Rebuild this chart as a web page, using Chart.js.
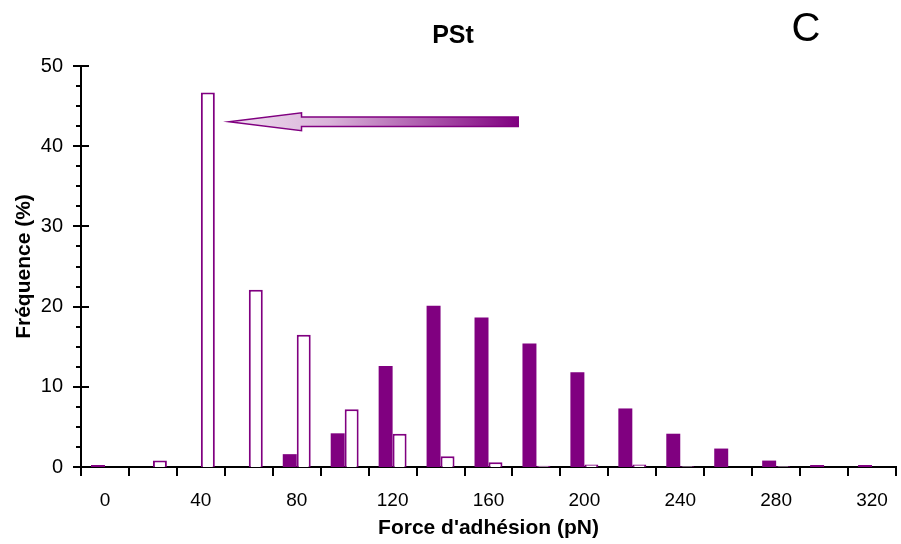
<!DOCTYPE html>
<html>
<head>
<meta charset="utf-8">
<script src="https://cdn.jsdelivr.net/npm/chart.js@4/dist/chart.umd.min.js"></script>
<style>
  body { margin: 0; background: #fff; }
  #wrap { width: 901px; height: 544px; }
</style>
</head>
<body>
<div id="wrap"><canvas id="myChart" width="901" height="544"></canvas></div>
<script>
// force classes (pN), one bar pair per class
const categories = ['0', '20', '40', '60', '80', '100', '120', '140', '160', '180', '200', '220', '240', '260', '280', '300', '320'];
// solid bars
const filledValues = [0.25, 0, 0, 0, 1.6, 4.2, 12.6, 20.1, 18.65, 15.4, 11.8, 7.3, 4.15, 2.3, 0.8, 0.25, 0.25];
// open bars
const openValues = [0, 0.8, 46.7, 22.1, 16.5, 7.2, 4.15, 1.35, 0.6, 0.15, 0.3, 0.3, 0.1, 0, 0.1, 0, 0];
const yTicks = [0, 10, 20, 30, 40, 50];

const purple = '#800080';
const fontFamily = "'Liberation Sans', Arial, sans-serif";

// extra drawing: y minor ticks, arrow, titles
const extras = {
    id: 'extras',
    afterDraw(chart) {
        const ctx = chart.ctx;
        const x = chart.scales.x;
        const y = chart.scales.y;
        const left = chart.chartArea.left;

        ctx.save();
        ctx.strokeStyle = '#000';
        ctx.lineWidth = 2;
        for (let v = 0; v <= 50; v += 2.5) {
            const py = Math.round(y.getPixelForValue(v));
            ctx.beginPath();
            if (v % 10 === 0) {
                ctx.moveTo(left - 8, py);
                ctx.lineTo(left + 8, py);
            } else {
                ctx.moveTo(left - 5, py);
                ctx.lineTo(left, py);
            }
            ctx.stroke();
        }

        // arrow pointing at the 40 pN bar
        const tipX = x.getPixelForValue(2.59);
        const baseX = x.getPixelForValue(4.1);
        const tailX = x.getPixelForValue(8.62);
        const cy = y.getPixelForValue(43.05);
        const head = 9, shaft = 4.7;
        const grad = ctx.createLinearGradient(tipX, 0, tailX, 0);
        grad.addColorStop(0, '#efe0ef');
        grad.addColorStop(0.35, '#d9b3d9');
        grad.addColorStop(1, purple);
        ctx.beginPath();
        ctx.moveTo(tipX, cy);
        ctx.lineTo(baseX, cy - head);
        ctx.lineTo(baseX, cy - shaft);
        ctx.lineTo(tailX, cy - shaft);
        ctx.lineTo(tailX, cy + shaft);
        ctx.lineTo(baseX, cy + shaft);
        ctx.lineTo(baseX, cy + head);
        ctx.closePath();
        ctx.fillStyle = grad;
        ctx.fill();
        ctx.strokeStyle = purple;
        ctx.lineWidth = 1.5;
        ctx.stroke();

        ctx.fillStyle = '#000';
        ctx.textAlign = 'center';
        ctx.textBaseline = 'alphabetic';
        ctx.font = 'bold 25px ' + fontFamily;
        ctx.fillText('PSt', 453, 43);
        ctx.font = '40px ' + fontFamily;
        ctx.fillText('C', 806, 41);
        ctx.restore();
    }
};

const ctx = document.getElementById('myChart').getContext('2d');
const myChart = new Chart(ctx, {
    type: 'bar',
    data: {
        labels: categories,
        datasets: [{
            label: 'filled',
            data: filledValues,
            backgroundColor: purple,
            borderWidth: 0,
            categoryPercentage: 0.583,
            barPercentage: 1.0
        }, {
            label: 'open',
            data: openValues,
            backgroundColor: '#fff',
            borderColor: purple,
            borderWidth: 2,
            categoryPercentage: 0.583,
            barPercentage: 1.0
        }]
    },
    options: {
        responsive: false,
        animation: false,
        layout: { padding: { left: 0, right: 4, top: 66, bottom: 0 } },
        plugins: {
            legend: { display: false },
            tooltip: { enabled: false },
            title: { display: false }
        },
        scales: {
            x: {
                type: 'category',
                offset: true,
                grid: {
                    display: true,
                    offset: true,
                    drawOnChartArea: false,
                    drawTicks: true,
                    tickLength: 9,
                    color: '#000',
                    lineWidth: 2
                },
                border: { display: true, color: '#000', width: 2 },
                ticks: {
                    autoSkip: false,
                    maxRotation: 0,
                    padding: 13,
                    color: '#000',
                    font: { family: fontFamily, size: 19 },
                    callback: (val, i) => (i % 2 === 0 ? categories[i] : '')
                },
                title: {
                    display: true,
                    text: "Force d'adhésion (pN)",
                    color: '#000',
                    font: { family: fontFamily, size: 21, weight: 'bold' },
                    padding: { top: 0, bottom: 3 }
                },
                afterFit: (scale) => { scale.height = 77; }
            },
            y: {
                min: 0,
                max: 50,
                afterBuildTicks: (scale) => { scale.ticks = yTicks.map(v => ({ value: v })); },
                grid: { display: false, drawTicks: false },
                border: { display: true, color: '#000', width: 2 },
                ticks: {
                    padding: 18,
                    color: '#000',
                    font: { family: fontFamily, size: 20 }
                },
                title: {
                    display: true,
                    text: 'Fréquence (%)',
                    color: '#000',
                    font: { family: fontFamily, size: 21, weight: 'bold' },
                    padding: { top: 12, bottom: 0 }
                },
                afterFit: (scale) => { scale.width = 81; }
            }
        }
    },
    plugins: [extras]
});
</script>
</body>
</html>
